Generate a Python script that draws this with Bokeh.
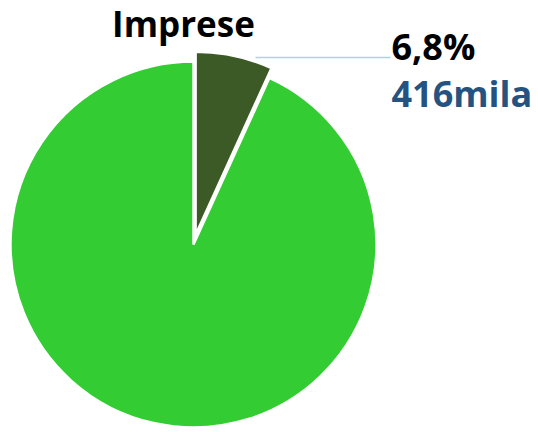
import math
from bokeh.plotting import figure
from bokeh.models import Range1d
from bokeh.core.properties import value
from bokeh.embed import file_html
from bokeh.resources import INLINE

# data
categories = ["Altro", "Imprese"]
shares = [93.2, 6.8]
share_label = "6,8%"
count_label = "416mila"
title_text = "Imprese"
colors = ["#33CC33", "#3C5A25"]

W, H = 538, 432
p = figure(width=W, height=H, output_backend="svg", toolbar_location=None,
           x_range=Range1d(0, W), y_range=Range1d(0, H), min_border=0)
p.axis.visible = False
p.grid.visible = False
p.outline_line_color = None
p.background_fill_color = "white"

def Y(sy):
    return H - sy

def X(sx):
    return sx

cx, cy, r = X(193), Y(244), 183
total = sum(shares)
small = shares[1] / total * 2 * math.pi
top = math.pi / 2
start_small = top - small
mid = top - small / 2
off = 10

# big slice
p.wedge(x=[cx], y=[cy], radius=r, start_angle=top, end_angle=start_small,
        direction="anticlock", fill_color=colors[0], line_color="white", line_width=2.5)
# exploded small slice
p.wedge(x=[cx + off * math.cos(mid)], y=[cy + off * math.sin(mid)], radius=r,
        start_angle=start_small, end_angle=top, direction="anticlock",
        fill_color=colors[1], line_color="white", line_width=2.5)

# leader line
p.line(x=[X(255), X(390)], y=[Y(57), Y(57)], line_color="#A9D5DE", line_width=1.5)

p.text(x=[X(183)], y=[Y(23)], text=[title_text], text_font=value("Open Sans"),
       text_font_style="bold", text_font_size="35px", text_align="center",
       text_baseline="alphabetic", text_color="black")
p.text(x=[X(391)], y=[Y(46)], text=[share_label], text_font=value("Open Sans"),
       text_font_style="bold", text_font_size="36px", text_align="left",
       text_baseline="alphabetic", text_color="black")
p.text(x=[X(391)], y=[Y(93)], text=[count_label], text_font=value("Open Sans"),
       text_font_style="bold", text_font_size="36px", text_align="left",
       text_baseline="alphabetic", text_color="#255381")

open("out.html", "w").write(file_html(p, INLINE))
